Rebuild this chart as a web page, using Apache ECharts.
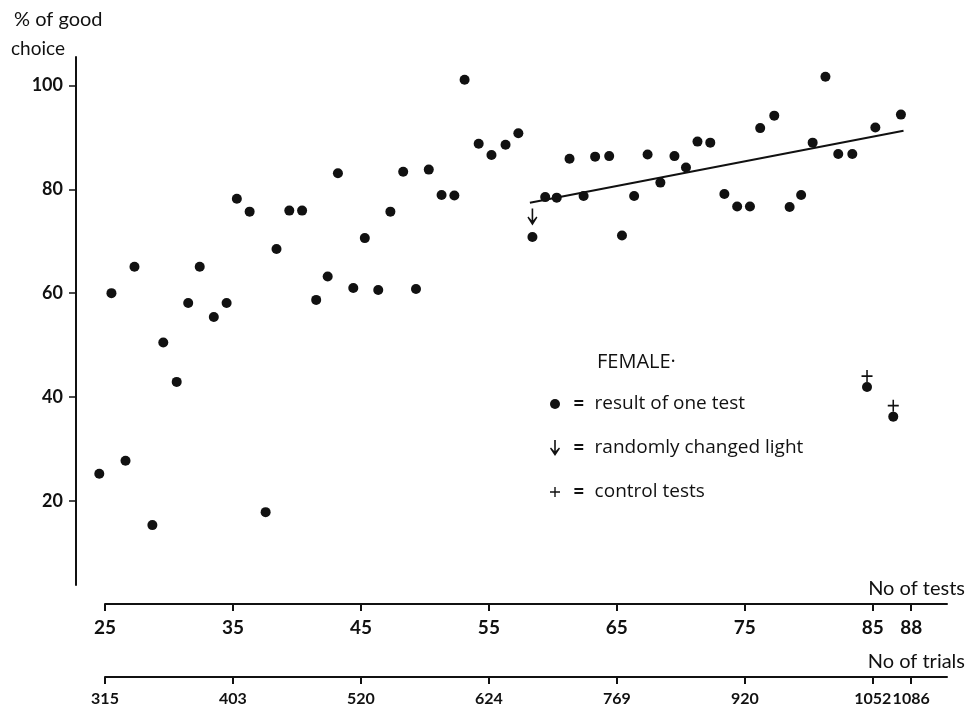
<!DOCTYPE html>
<html>
<head>
<meta charset="utf-8">
<script src="https://cdn.jsdelivr.net/npm/echarts@6/dist/echarts.min.js"></script>
<style>
  html, body { margin: 0; padding: 0; background: #fff; }
  #chart { width: 974px; height: 711px; }
</style>
</head>
<body>
<div id="chart"></div>
<script>
(function() {
  var ink = '#111111';
  var font = 'Lato';

  // test number, % of good choice (one dot per test)
  var testNo = [24.55, 25.5, 26.6, 27.3, 28.7, 29.55, 30.6, 31.5, 32.4, 33.5, 34.5, 35.3, 36.3, 37.55, 38.4, 39.4,
    40.4, 41.5, 42.4, 43.2, 44.4, 45.3, 46.35, 47.3, 48.3, 49.3, 50.3, 51.3, 52.3, 53.1, 54.2, 55.2,
    56.3, 57.3, 58.4, 59.4, 60.3, 61.3, 62.4, 63.3, 64.4, 65.4, 66.35, 67.4, 68.4, 69.5, 70.4, 71.3,
    72.3, 73.4, 74.4, 75.4, 76.2, 77.3, 78.5, 79.4, 80.3, 81.3, 82.3, 83.4, 85.2, 87.2];
  var goodChoice = [25.2, 60.0, 27.7, 65.1, 15.3, 50.5, 42.9, 58.1, 65.1, 55.4, 58.1, 78.2, 75.7, 17.8, 68.5, 75.9,
    75.9, 58.7, 63.2, 83.1, 61.0, 70.6, 60.6, 75.7, 83.4, 60.8, 83.8, 78.9, 78.8, 101.1, 88.8, 86.6,
    88.6, 90.8, 70.8, 78.5, 78.4, 85.9, 78.7, 86.3, 86.4, 71.1, 78.7, 86.7, 81.3, 86.4, 84.2, 89.2,
    89.0, 79.1, 76.7, 76.7, 91.8, 94.2, 76.6, 78.9, 89.0, 101.7, 86.8, 86.8, 91.9, 94.4];

  // control tests
  var controlNo = [84.55, 86.6];
  var controlChoice = [41.9, 36.2];

  // test where the light was changed at random
  var changedNo = [58.4];
  var changedChoice = [70.8];

  // fitted line, end points
  var trendNo = [58.2, 87.4];
  var trendChoice = [77.4, 91.3];

  var yTicks = [20, 40, 60, 80, 100];
  var testTicks = [25, 35, 45, 55, 65, 75, 85, 88];
  var trialTicks = ['315', '403', '520', '624', '769', '920', '1052', '1086'];

  function pairs(xs, ys) {
    return xs.map(function(x, i) { return [x, ys[i]]; });
  }

  var dotPath = 'circle';
  var arrowPath = 'path://M4.2,0 L5.8,0 L5.8,11 L9,7.5 L10,8.5 L5,16 L0,8.5 L1,7.5 L4.2,11 Z';
  var plusPath = 'path://M4.3,0 L5.7,0 L5.7,4.3 L10,4.3 L10,5.7 L5.7,5.7 L5.7,10 L4.3,10 L4.3,5.7 L0,5.7 L0,4.3 L4.3,4.3 Z';

  var bottomAxis = function(gridIndex, name, formatter, labelSize) {
    return {
      gridIndex: gridIndex,
      type: 'value',
      position: 'bottom',
      min: 25,
      max: 90.8,
      name: name,
      nameLocation: 'end',
      nameGap: 18,
      nameTextStyle: {
        color: ink, fontFamily: font, fontSize: 20,
        align: 'right', verticalAlign: 'bottom', padding: [0, 0, 5, 0]
      },
      axisLine: { show: true, lineStyle: { color: ink, width: 2 } },
      axisTick: { show: true, length: 7, customValues: testTicks, lineStyle: { color: ink, width: 2 } },
      axisLabel: {
        customValues: testTicks,
        hideOverlap: false,
        margin: 14,
        color: ink, fontFamily: font, fontSize: labelSize, fontWeight: 'bold',
        formatter: formatter
      },
      splitLine: { show: false }
    };
  };

  var chart = echarts.init(document.getElementById('chart'), null, { renderer: 'canvas' });
  chart.setOption({
    animation: false,
    backgroundColor: '#ffffff',
    grid: [
      { left: 76, right: 27, top: 57, bottom: 126 },
      { left: 105, right: 27, top: 604, height: 0 },
      { left: 105, right: 27, top: 677, height: 0 }
    ],
    xAxis: [
      { gridIndex: 0, type: 'value', min: 22.73, max: 90.8, show: false },
      bottomAxis(1, 'No of tests', function(v) { return String(v); }, 19),
      bottomAxis(2, 'No of trials', function(v) { return trialTicks[testTicks.indexOf(v)]; }, 16)
    ],
    yAxis: [
      {
        gridIndex: 0,
        type: 'value',
        min: 3.76,
        max: 105.5,
        axisLine: { show: true, lineStyle: { color: ink, width: 2 } },
        axisTick: { show: true, length: 7, customValues: yTicks, lineStyle: { color: ink, width: 1.5 } },
        axisLabel: {
          customValues: yTicks,
          margin: 13,
          color: ink, fontFamily: font, fontSize: 18, fontWeight: 'bold'
        },
        splitLine: { show: false }
      },
      { gridIndex: 1, type: 'value', show: false },
      { gridIndex: 2, type: 'value', show: false }
    ],
    legend: {
      orient: 'vertical',
      left: 545,
      top: 389,
      itemWidth: 10,
      itemHeight: 16,
      itemGap: 24,
      selectedMode: false,
      data: [
        { name: 'result of one test', icon: dotPath },
        { name: 'randomly changed light', icon: arrowPath },
        { name: 'control tests', icon: plusPath }
      ],
      formatter: function(name) { return '{eq|=}' + name; },
      textStyle: {
        color: ink, fontFamily: 'Open Sans', fontSize: 19,
        rich: {
          eq: { fontFamily: font, fontWeight: 'bold', fontSize: 20, color: ink, padding: [0, 10, 0, 8] }
        }
      }
    },
    graphic: [
      {
        type: 'text', left: 14, top: 10,
        style: { text: '% of good', fill: ink, font: '20px ' + font }
      },
      {
        type: 'text', left: 11, top: 39,
        style: { text: 'choice', fill: ink, font: '19px ' + font }
      },
      {
        type: 'text', left: 597, top: 352,
        style: { text: 'FEMALE·', fill: ink, font: '20px "Open Sans"' }
      }
    ],
    series: [
      {
        name: 'result of one test',
        type: 'scatter',
        xAxisIndex: 0, yAxisIndex: 0,
        symbol: dotPath,
        symbolSize: 10,
        itemStyle: { color: ink, opacity: 1 },
        data: pairs(testNo, goodChoice).concat(pairs(controlNo, controlChoice))
      },
      {
        name: 'randomly changed light',
        type: 'scatter',
        xAxisIndex: 0, yAxisIndex: 0,
        symbol: arrowPath,
        symbolSize: [10, 17],
        symbolOffset: [0, -20],
        itemStyle: { color: ink, opacity: 1 },
        data: pairs(changedNo, changedChoice)
      },
      {
        name: 'control tests',
        type: 'scatter',
        xAxisIndex: 0, yAxisIndex: 0,
        symbol: plusPath,
        symbolSize: [11, 12],
        symbolOffset: [0, -11],
        itemStyle: { color: ink, opacity: 1 },
        data: pairs(controlNo, controlChoice)
      },
      {
        name: 'trend',
        type: 'line',
        xAxisIndex: 0, yAxisIndex: 0,
        symbol: 'none',
        lineStyle: { color: ink, width: 2 },
        data: pairs(trendNo, trendChoice)
      }
    ]
  });
  window.addEventListener('resize', function() { chart.resize(); });
})();
</script>
</body>
</html>
